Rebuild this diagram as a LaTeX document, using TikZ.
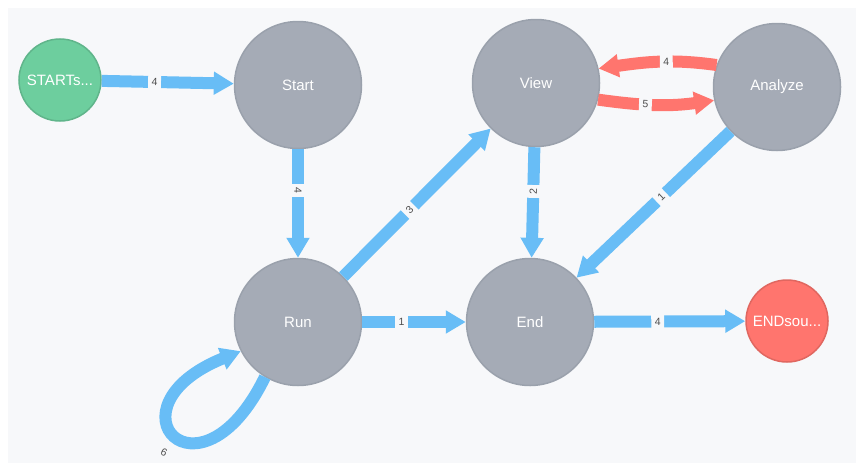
\documentclass[tikz,border=0pt]{standalone}
\usepackage{fontspec}
\setmainfont{Liberation Sans}
\usetikzlibrary{arrows.meta}

\definecolor{canvas}{HTML}{F7F8FA}
\definecolor{grayfill}{HTML}{A5ABB6}
\definecolor{grayline}{HTML}{9AA1AC}
\definecolor{greenfill}{HTML}{6DCE9E}
\definecolor{greenline}{HTML}{60B58B}
\definecolor{redfill}{HTML}{FF756E}
\definecolor{redline}{HTML}{E06760}
\definecolor{relblue}{HTML}{68BDF6}
\definecolor{relred}{HTML}{FF756E}
\definecolor{labtext}{HTML}{4D4D4D}

\begin{document}
\begin{tikzpicture}[x=1pt,y=1pt,
  state/.style={circle, draw=grayline, fill=grayfill, line width=1.5pt,
    minimum size=127pt, inner sep=0pt, text=white,
    font=\fontsize{15}{18}\selectfont},
  source/.style={state, draw=greenline, fill=greenfill, minimum size=82pt},
  sink/.style={state, draw=redline, fill=redfill, minimum size=82pt},
  relb/.style={draw=relblue, line width=12pt,
    -{Triangle[width=22pt,length=20pt]}},
  relr/.style={relb, draw=relred},
  elab/.style={sloped, fill=canvas, text=labtext,
    font=\fontsize{10.5}{12}\selectfont,
    inner xsep=3.5pt, inner ysep=0pt, minimum height=16pt},
  freelab/.style={text=labtext, font=\fontsize{10.5}{12}\selectfont,
    inner sep=1pt}
]
% canvas
\fill[white] (0,0) rectangle (856,-463);
\useasboundingbox (0,0) rectangle (856,-463);
\fill[canvas] (8,-8) rectangle (856,-463);

% states
\node[source] (s0) at (60,-80)   {STARTs...};
\node[state]  (st) at (298,-85)  {Start};
\node[state]  (vw) at (536,-83)  {View};
\node[state]  (an) at (777,-87)  {Analyze};
\node[state]  (rn) at (298,-322) {Run};
\node[state]  (en) at (530,-322) {End};
\node[sink]   (e0) at (787,-321) {ENDsou...};

% transitions
\draw[relb] (s0) -- node[elab,pos=0.4]{4} (st);
\draw[relb] (st) -- node[elab,pos=0.38]{4} (rn);
\draw[relb] (rn) -- node[elab,pos=0.45]{3} (vw);
\draw[relb] (vw) -- node[elab,pos=0.4]{2} (en);
\draw[relb] (an) -- node[elab,pos=0.45]{1} (en);
\draw[relb] (rn) -- node[elab,pos=0.38]{1} (en);
\draw[relb] (en) -- node[elab,pos=0.42]{4} (e0);

% View <-> Analyze
\draw[relr] (an.160) to[out=172, in=8] node[elab,pos=0.42]{4} (vw.13);
\draw[relr] (vw.-15) to[out=-8, in=188] node[elab,pos=0.4]{5} (an.192);

% Run self-loop
\draw[relb] (rn.239) to[out=244, in=202, distance=150pt] (rn.207);
\node[freelab, rotate=-25] (l6) at (164,-452) {6};
\end{tikzpicture}
\end{document}
